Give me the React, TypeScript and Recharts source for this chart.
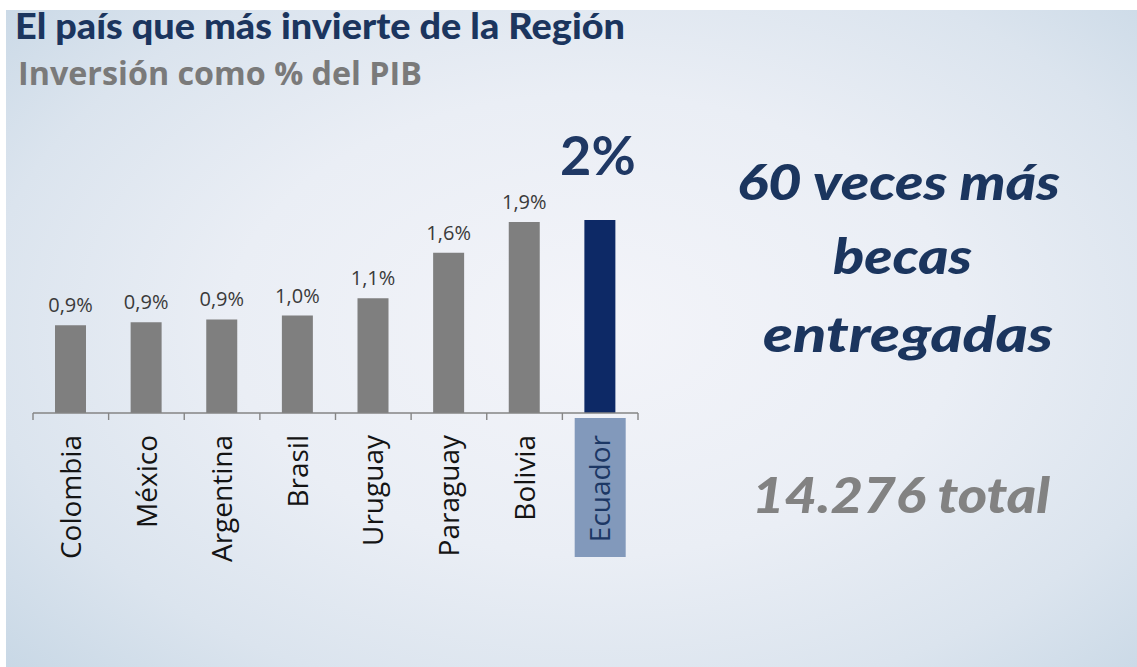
import React from 'react';
import { BarChart, Bar, XAxis, YAxis, Cell, LabelList } from 'recharts';

const COUNTRIES = ['Colombia', 'México', 'Argentina', 'Brasil', 'Uruguay', 'Paraguay', 'Bolivia', 'Ecuador'];
const VALUES = [0.91, 0.94, 0.97, 1.01, 1.19, 1.66, 1.98, 2.0];
const LABELS = ['0,9%', '0,9%', '0,9%', '1,0%', '1,1%', '1,6%', '1,9%', '2%'];
const HIGHLIGHT = 'Ecuador';
const BOUNDARY_TICKS = [0, 1, 2, 3, 4, 5, 6, 7, 8];
const Y_DOMAIN = [0, 2];

const data = COUNTRIES.map((c, i) => ({ country: c, value: VALUES[i], label: LABELS[i], pos: i + 0.5 }));

const NAVY = '#1b355e';
const BAR_GRAY = '#7f7f7f';
const BAR_NAVY = '#0d2966';

const EmptyTick = () => <g />;

const CategoryTick = (props: any) => {
  const { x, payload } = props;
  const name = payload.value as string;
  const isHi = name === HIGHLIGHT;
  return (
    <g>
      {isHi && <rect x={x - 25.5} y={418} width={51} height={139} fill="#8299bb" />}
      <text
        transform={`translate(${x},435) rotate(-90)`}
        textAnchor="end"
        dy="0.36em"
        fontFamily="'Open Sans', sans-serif"
        fontWeight={500}
        fontSize={28}
        fill={isHi ? '#1c3764' : '#141414'}
      >
        {name}
      </text>
    </g>
  );
};

const BarLabel = (props: any) => {
  const { x, y, width, value } = props;
  const cx = x + width / 2;
  if (value === '2%') {
    return (
      <text x={cx - 2} y={y - 45} textAnchor="middle" fontFamily="Lato, sans-serif" fontWeight={700} fontSize={54} fill="#1f3864">
        {value}
      </text>
    );
  }
  return (
    <text x={cx} y={y - 13} textAnchor="middle" fontFamily="'Open Sans', sans-serif" fontWeight={500} fontSize={20} fill="#3a3a3a">
      {value}
    </text>
  );
};

export default function App() {
  return (
    <div style={{ position: 'fixed', left: 0, top: 0, width: 1137, height: 667, background: '#ffffff', overflow: 'hidden' }}>
      <div
        style={{
          position: 'absolute',
          left: 6,
          top: 10,
          width: 1131,
          height: 657,
          background: 'radial-gradient(ellipse 72% 78% at 52% 48%, #f3f4f9 0%, #eaeef5 45%, #dbe4ee 75%, #c7d7e5 100%)',
        }}
      />
      <div style={{ position: 'absolute', left: 0, top: 0 }}>
        <BarChart width={1137} height={667} data={data} margin={{ top: 220, right: 499, bottom: 113, left: 33 }} barSize={31}>
          <YAxis hide domain={Y_DOMAIN} width={0} />
          <XAxis
            xAxisId="b_cat"
            dataKey="country"
            type="category"
            height={140}
            axisLine={false}
            tickLine={false}
            interval={0}
            tick={<CategoryTick />}
          />
          <XAxis
            xAxisId="a_edges"
            type="number"
            dataKey="pos"
            domain={[0, 8]}
            ticks={BOUNDARY_TICKS}
            interval={0}
            height={1}
            tick={<EmptyTick />}
            tickSize={7}
            axisLine={{ stroke: '#858585', strokeWidth: 1.4 }}
            tickLine={{ stroke: '#858585', strokeWidth: 1.4 }}
          />
          <Bar dataKey="value" xAxisId="b_cat" isAnimationActive={false}>
            {data.map((d) => (
              <Cell key={d.country} fill={d.country === HIGHLIGHT ? BAR_NAVY : BAR_GRAY} />
            ))}
            <LabelList dataKey="label" content={<BarLabel />} />
          </Bar>
        </BarChart>
      </div>
      <svg width={1137} height={667} style={{ position: 'absolute', left: 0, top: 0, pointerEvents: 'none' }}>
        <text x={15} y={38.5} fontFamily="Lato, sans-serif" fontWeight={900} fontSize={36} fill={NAVY} textLength={610} lengthAdjust="spacingAndGlyphs">
          El país que más invierte de la Región
        </text>
        <text x={18} y={85} fontFamily="'Open Sans', sans-serif" fontWeight={700} fontSize={32} fill="#7a7a7a" textLength={404} lengthAdjust="spacingAndGlyphs">
          Inversión como % del PIB
        </text>
        <g fontFamily="Lato, sans-serif" fontWeight={900} fontStyle="italic" fontSize={50} fill={NAVY}>
          <text x={737} y={200} textLength={323} lengthAdjust="spacingAndGlyphs">60 veces más</text>
          <text x={833} y={274} textLength={139} lengthAdjust="spacingAndGlyphs">becas</text>
          <text x={763} y={352} textLength={290} lengthAdjust="spacingAndGlyphs">entregadas</text>
          <text x={752} y={513} textLength={298} lengthAdjust="spacingAndGlyphs" fill="#828282">14.276 total</text>
        </g>
      </svg>
    </div>
  );
}
